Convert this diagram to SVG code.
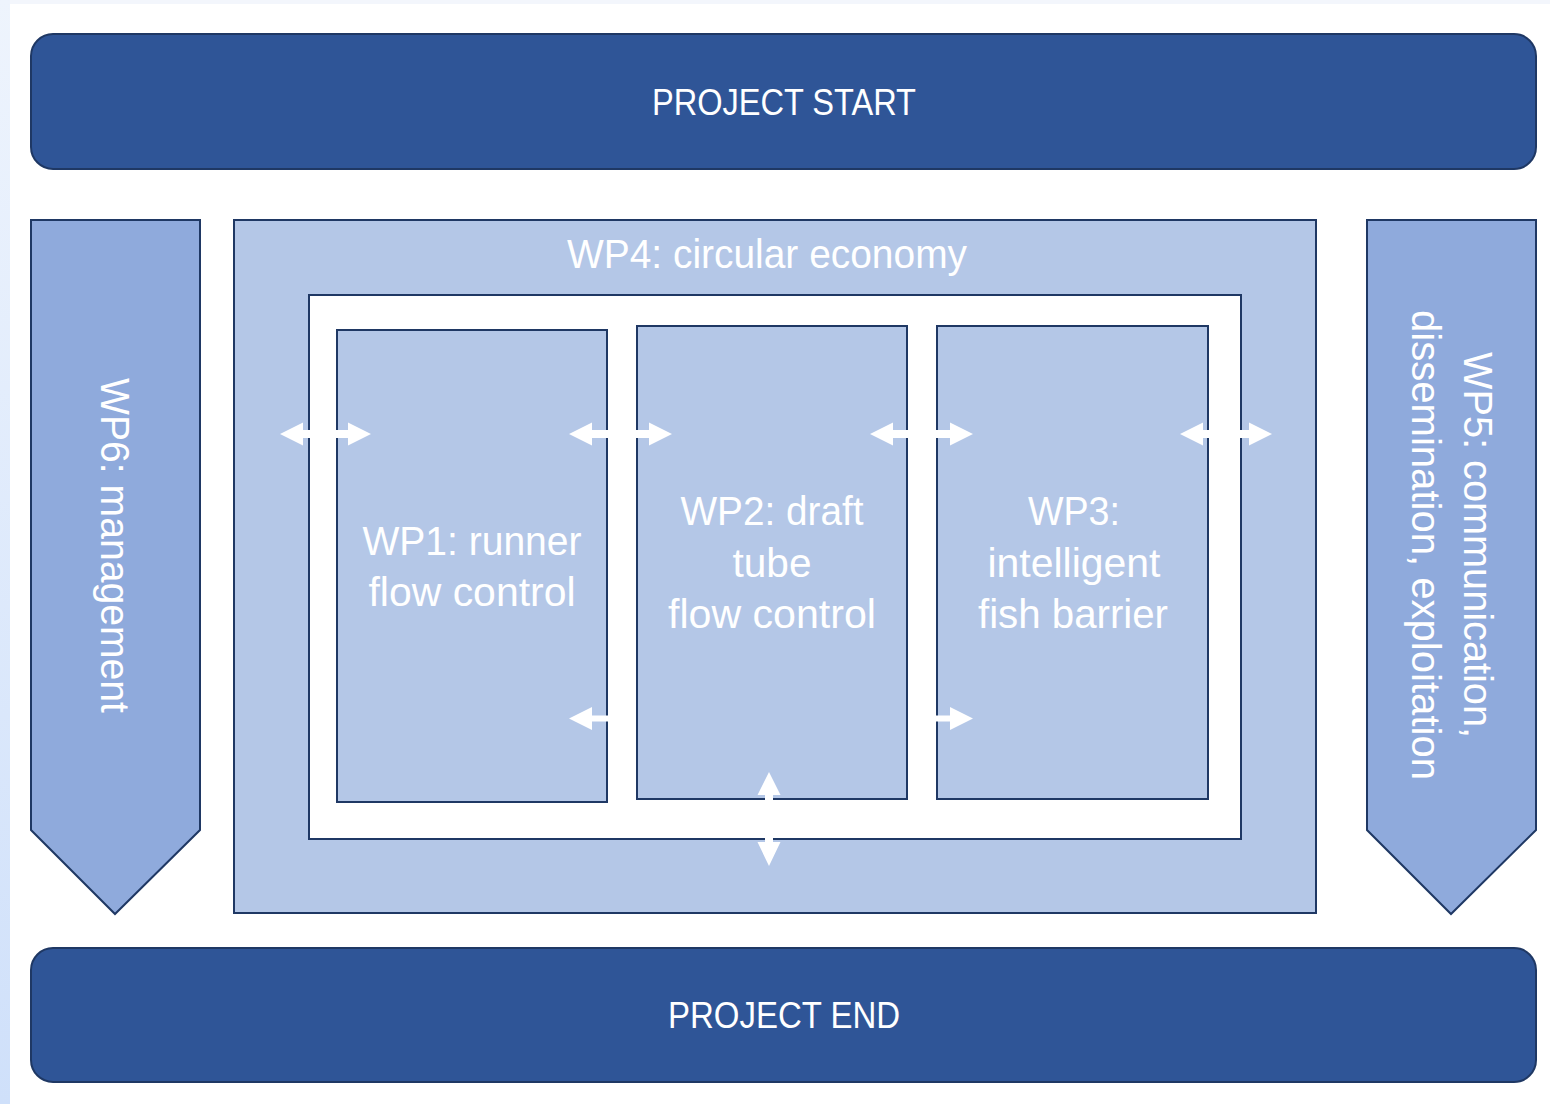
<svg xmlns="http://www.w3.org/2000/svg" width="1550" height="1104" viewBox="0 0 1550 1104">
  <defs>
    <linearGradient id="edge" x1="0" y1="0" x2="0" y2="1">
      <stop offset="0" stop-color="#EEF4FD"/>
      <stop offset="1" stop-color="#CFE0FA"/>
    </linearGradient>
    <style>
      .bar { fill: #2F5597; stroke: #1F3864; stroke-width: 2; }
      .chev { fill: #8FAADC; stroke: #1F3864; stroke-width: 2; }
      .box { fill: #B4C7E7; stroke: #1F3864; stroke-width: 2; }
      .frame { fill: #FFFFFF; stroke: #1F3864; stroke-width: 2; }
      .arrow { fill: #FFFFFF; stroke: none; }
      .t { font-family: "Liberation Sans", Arial, sans-serif; fill: #FFFFFF; text-anchor: middle; }
      .big { font-size: 36px; }
      .lbl { font-size: 40px; }
    </style>
  </defs>
  <rect x="0" y="0" width="1550" height="1104" fill="#FFFFFF"/>
  <rect x="0" y="0" width="1550" height="4" fill="#F3F6FC"/>
  <rect x="0" y="0" width="10" height="1104" fill="url(#edge)"/>

  <g id="project-start">
    <rect class="bar" x="31" y="34" width="1505" height="135" rx="22" ry="22"/>
    <text class="t big" x="784" y="115" textLength="264" lengthAdjust="spacingAndGlyphs">PROJECT START</text>
  </g>

  <g id="wp6">
    <polygon class="chev" points="31,220 200,220 200,830 115,914 31,830"/>
    <text class="t lbl" transform="translate(101,545.5) rotate(90)" x="0" y="0" textLength="335" lengthAdjust="spacingAndGlyphs">WP6: management</text>
  </g>

  <g id="wp5">
    <polygon class="chev" points="1367,220 1536,220 1536,830 1451,914 1367,830"/>
    <text class="t lbl" transform="translate(1464,545) rotate(90)" x="0" y="0" textLength="386" lengthAdjust="spacingAndGlyphs">WP5: communication,</text>
    <text class="t lbl" transform="translate(1412,545) rotate(90)" x="0" y="0" textLength="470" lengthAdjust="spacingAndGlyphs">dissemination, exploitation</text>
  </g>

  <g id="wp4">
    <rect class="box" x="234" y="220" width="1082" height="693"/>
    <text class="t lbl" x="767" y="268" textLength="400" lengthAdjust="spacingAndGlyphs">WP4: circular economy</text>
    <rect class="frame" x="309" y="295" width="932" height="544"/>
  </g>

  <g id="wp1">
    <rect class="box" x="337" y="330" width="270" height="472"/>
    <text class="t lbl" x="472" y="555" textLength="219" lengthAdjust="spacingAndGlyphs">WP1: runner</text>
    <text class="t lbl" x="472" y="606" textLength="207" lengthAdjust="spacingAndGlyphs">flow control</text>
  </g>

  <g id="wp2">
    <rect class="box" x="637" y="326" width="270" height="473"/>
    <text class="t lbl" x="772" y="525" textLength="183" lengthAdjust="spacingAndGlyphs">WP2: draft</text>
    <text class="t lbl" x="772" y="577" textLength="79" lengthAdjust="spacingAndGlyphs">tube</text>
    <text class="t lbl" x="772" y="628" textLength="208" lengthAdjust="spacingAndGlyphs">flow control</text>
  </g>

  <g id="wp3">
    <rect class="box" x="937" y="326" width="271" height="473"/>
    <text class="t lbl" x="1074" y="525" textLength="92" lengthAdjust="spacingAndGlyphs">WP3:</text>
    <text class="t lbl" x="1074" y="577" textLength="173" lengthAdjust="spacingAndGlyphs">intelligent</text>
    <text class="t lbl" x="1073" y="628" textLength="190" lengthAdjust="spacingAndGlyphs">fish barrier</text>
  </g>

  <g id="connectors">
    <polygon class="arrow" points="280,434 303,422.5 303,430 348,430 348,422.5 371,434 348,445.5 348,438 303,438 303,445.5"/>
    <polygon class="arrow" points="569,434 592,422.5 592,430 649,430 649,422.5 672,434 649,445.5 649,438 592,438 592,445.5"/>
    <polygon class="arrow" points="870,434 893,422.5 893,430 950,430 950,422.5 973,434 950,445.5 950,438 893,438 893,445.5"/>
    <polygon class="arrow" points="1180,434 1203,422.5 1203,430 1249,430 1249,422.5 1272,434 1249,445.5 1249,438 1203,438 1203,445.5"/>
    <polygon class="arrow" points="569,718.5 592,707 592,715.5 608,715.5 608,721.5 592,721.5 592,730"/>
    <polygon class="arrow" points="973,718.5 950,707 950,715.5 936,715.5 936,721.5 950,721.5 950,730"/>
    <polygon class="arrow" points="769,772 780.5,795 773,795 773,842 780.5,842 769,866 757.5,842 765,842 765,795 757.5,795"/>
  </g>

  <g id="project-end">
    <rect class="bar" x="31" y="948" width="1505" height="134" rx="22" ry="22"/>
    <text class="t big" x="784" y="1028" textLength="232" lengthAdjust="spacingAndGlyphs">PROJECT END</text>
  </g>
</svg>
